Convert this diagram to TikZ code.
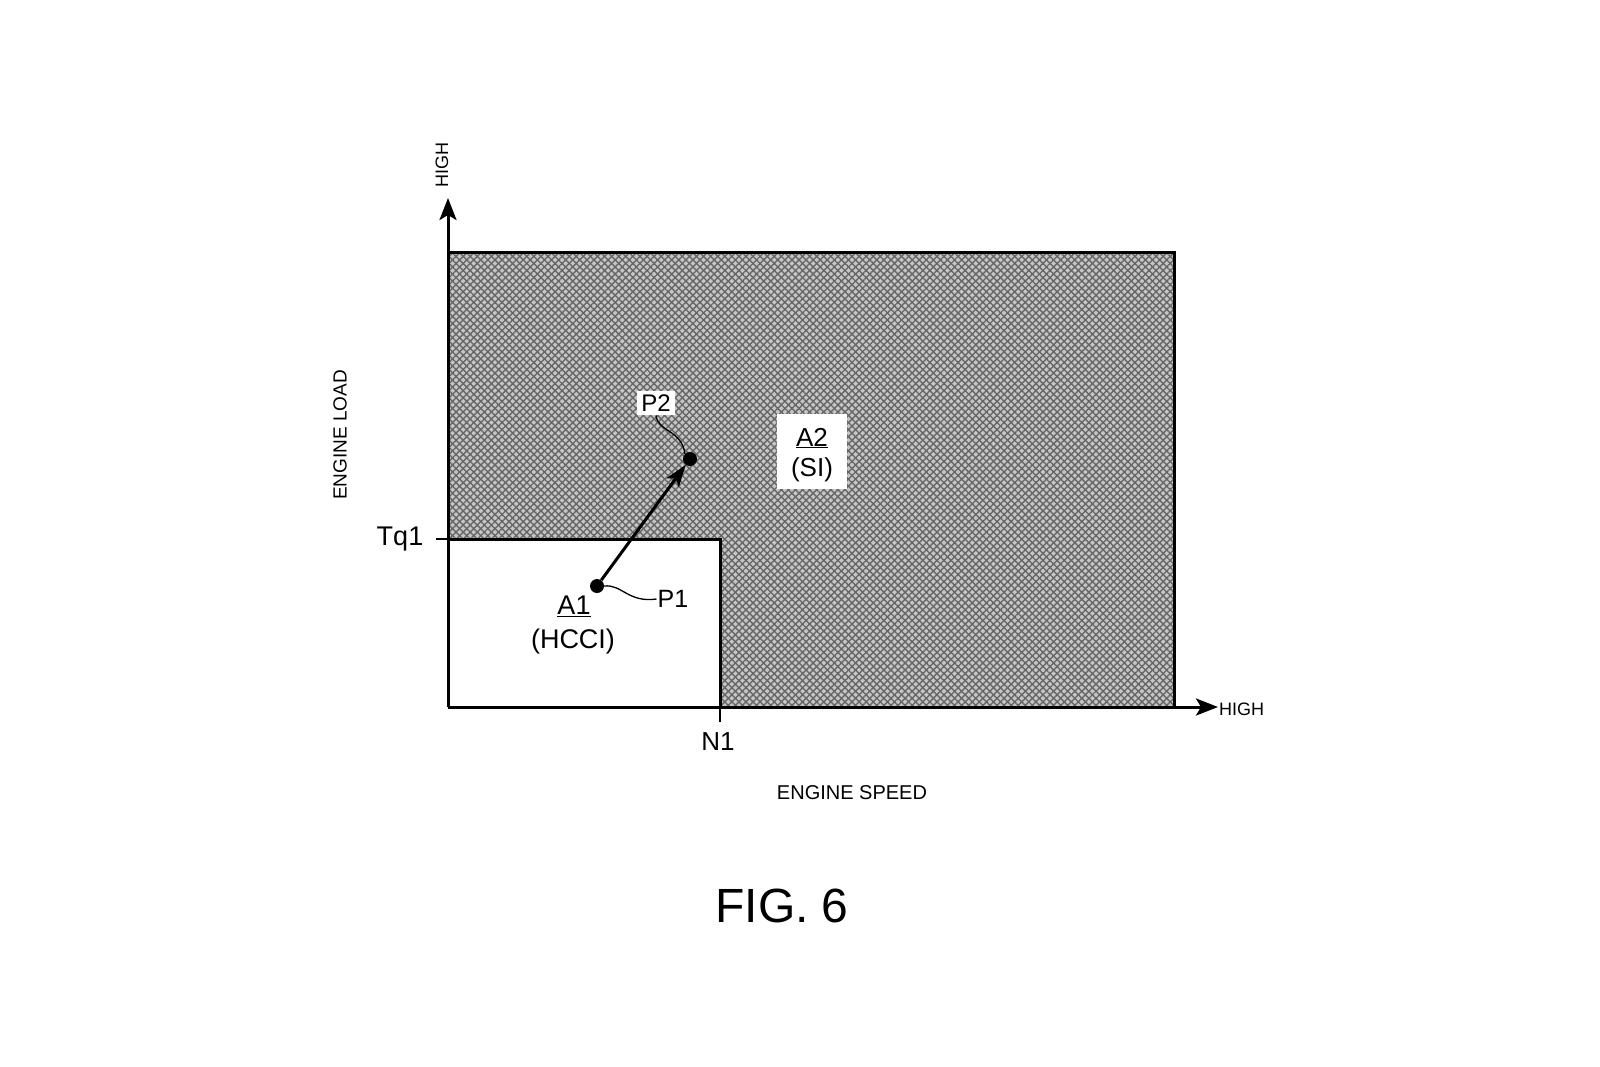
\documentclass[tikz,border=0pt]{standalone}
\usepackage{fontspec}
\setmainfont{Liberation Sans}
\usetikzlibrary{arrows.meta,patterns.meta}
\begin{document}
\begin{tikzpicture}[x=1pt,y=-1pt,
  axisline/.style={line width=3pt,-{Stealth[length=22pt,width=17pt,inset=5pt]}},
  frame/.style={line width=3pt},
  ptdot/.style={circle,fill=black,inner sep=0pt,minimum size=14pt},
  leader/.style={line width=1.3pt},
  lbl/.style={inner sep=1pt,font=\fontsize{26}{28}\selectfont},
  small/.style={inner sep=0pt,font=\fontsize{19}{21}\selectfont},
]
\useasboundingbox (0,0) rectangle (1600,1066);
% shaded region A2
\fill[gray!45] (448,252) rectangle (1174,707);
\fill[pattern={Lines[angle=45,distance=5pt,line width=1.4pt]},pattern color=black!60] (448,252) rectangle (1174,707);
\fill[pattern={Lines[angle=-45,distance=5pt,line width=1.4pt]},pattern color=black!60] (448,252) rectangle (1174,707);
\draw[frame] (448,252) -- (1174,252) -- (1174,707);
% region A1
\fill[white] (448,539) rectangle (720,707);
\draw[frame] (448,539) -- (720,539) -- (720,707);
% axes
\coordinate (o) at (448,707);
\coordinate (ytip) at (448,198);
\coordinate (xtip) at (1218,707);
\draw[axisline] (o) -- (ytip);
\draw[axisline] (o) -- (xtip);
% ticks
\coordinate (tqa) at (436,539);
\coordinate (tqb) at (448,539);
\coordinate (n1a) at (720,707);
\coordinate (n1b) at (720,722);
\draw[line width=1.5pt] (tqa) -- (tqb);
\draw[line width=1.5pt] (n1a) -- (n1b);
\node[lbl,font=\fontsize{27}{29}\selectfont] (tq1) at (400,539) {Tq1};
\node[lbl] (n1) at (718,742) {N1};
% axis labels
\node[small,rotate=90,font=\fontsize{18}{20}\selectfont] (yhigh) at (442,165) {HIGH};
\node[small,anchor=west,font=\fontsize{18}{20}\selectfont] (xhigh) at (1219,709) {HIGH};
\node[small,rotate=90] (eload) at (340,435) {ENGINE LOAD};
\node[small,font=\fontsize{20}{22}\selectfont] (espeed) at (852,793) {ENGINE SPEED};
% region labels
\node[fill=white,inner sep=0pt,minimum width=70pt,minimum height=75pt] (a2box) at (812,451) {};
\node[lbl] (a2) at (812,438) {\underline{A2}};
\node[lbl] (si) at (812,470) {(SI)};
\node[lbl,font=\fontsize{27}{29}\selectfont] (a1) at (574,606) {\underline{A1}};
\node[lbl,font=\fontsize{27}{29}\selectfont] (hcci) at (573,642) {(HCCI)};
% points
\node[ptdot] (p1) at (597,586) {};
\node[ptdot] (p2) at (690,459) {};
\draw[line width=3pt,-{Stealth[length=22pt,width=15pt,inset=5pt]}] (p1) -- (p2);
\node[lbl,font=\fontsize{25}{27}\selectfont] (p1l) at (673,599) {P1};
\node[lbl,fill=white,inner sep=4pt,font=\fontsize{24}{26}\selectfont] (p2l) at (656,403) {P2};
\draw[leader] (p1.east) .. controls (622,584) and (628,603) .. (p1l.west);
\draw[leader] (p2l.south) .. controls (658,432) and (682,430) .. (p2.north west);
% caption
\node[inner sep=0pt,font=\fontsize{48}{50}\selectfont] (fig) at (782,906) {FIG. 6};
\end{tikzpicture}
\end{document}
